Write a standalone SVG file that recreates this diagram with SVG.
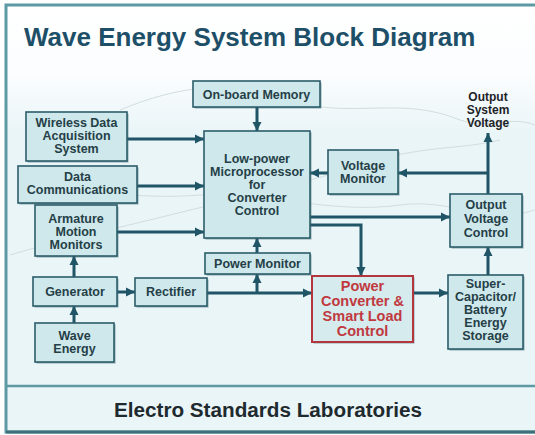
<svg xmlns="http://www.w3.org/2000/svg" width="535" height="435" viewBox="0 0 535 435">
<defs>
<linearGradient id="bg" x1="0" y1="0" x2="0" y2="1">
<stop offset="0" stop-color="#ffffff"/>
<stop offset="0.16" stop-color="#fbfdfe"/>
<stop offset="0.3" stop-color="#eaf5f8"/>
<stop offset="1" stop-color="#eaf5f8"/>
</linearGradient>
<marker id="ah" markerUnits="userSpaceOnUse" markerWidth="10" markerHeight="10" refX="9" refY="5" orient="auto">
<path d="M0,0.5 L9,5 L0,9.5 z" fill="#1f5566"/>
</marker>
<style>
.box{fill:#cfe8ec;stroke:#2b5d69;stroke-width:1.6}
.shd{fill:#3d6b76;opacity:0.55}
.red{fill:#d6ebee;stroke:#b3363c;stroke-width:2}
.t{font-family:"Liberation Sans",Arial,sans-serif;font-weight:bold;font-size:12.5px;fill:#253f47;text-anchor:middle}
.tr{font-family:"Liberation Sans",Arial,sans-serif;font-weight:bold;font-size:14.5px;fill:#c0393f;text-anchor:middle}
.c{fill:none;stroke:#1f5566;stroke-width:3}
.wave{fill:none;stroke:#d3dde0;stroke-width:1}
</style>
</defs>
<rect x="0" y="0" width="535" height="435" fill="#ffffff"/>
<rect x="6" y="5" width="535" height="427" fill="url(#bg)" stroke="#5d9aa4" stroke-width="3"/>
<line x1="6" y1="386" x2="535" y2="386" stroke="#5d9aa4" stroke-width="2.5"/>
<line x1="6" y1="432" x2="535" y2="432" stroke="#3f6f78" stroke-width="3"/>
<g id="waves">
<path class="wave" d="M120,110 C180,85 230,80 290,100 C350,120 400,95 460,120 C490,130 510,115 535,125"/>
<path class="wave" d="M10,255 C60,240 110,230 170,215 C230,200 300,185 360,165 C420,145 460,150 500,140"/>
<path class="wave" d="M20,180 C80,190 140,200 200,195 C260,190 330,215 400,205 C450,198 490,225 535,210"/>
</g>
<text x="24" y="46" font-family="'Liberation Sans',Arial,sans-serif" font-weight="bold" font-size="26" fill="#1d5068">Wave Energy System Block Diagram</text>
<text x="268" y="417" font-family="'Liberation Sans',Arial,sans-serif" font-weight="bold" font-size="20.7" fill="#1e2a2e" text-anchor="middle">Electro Standards Laboratories</text>

<g id="connectors">
<line class="c" x1="257" y1="107" x2="257" y2="131" marker-end="url(#ah)"/>
<line class="c" x1="127" y1="139" x2="204" y2="139" marker-end="url(#ah)"/>
<line class="c" x1="137" y1="186" x2="204" y2="186" marker-end="url(#ah)"/>
<line class="c" x1="117" y1="232" x2="204" y2="232" marker-end="url(#ah)"/>
<line class="c" x1="74" y1="277" x2="74" y2="256" marker-end="url(#ah)"/>
<line class="c" x1="74" y1="323" x2="74" y2="306" marker-end="url(#ah)"/>
<line class="c" x1="117" y1="292" x2="135" y2="292" marker-end="url(#ah)"/>
<line class="c" x1="207" y1="293" x2="312" y2="293" marker-end="url(#ah)"/>
<line class="c" x1="257" y1="293" x2="257" y2="274" marker-end="url(#ah)"/>
<line class="c" x1="257" y1="253" x2="257" y2="238" marker-end="url(#ah)"/>
<line class="c" x1="310" y1="217" x2="450" y2="217" marker-end="url(#ah)"/>
<polyline class="c" points="310,225 361,225 361,276" marker-end="url(#ah)"/>
<line class="c" x1="488" y1="173" x2="398" y2="173" marker-end="url(#ah)"/>
<line class="c" x1="328" y1="173" x2="310" y2="173" marker-end="url(#ah)"/>
<line class="c" x1="488" y1="194" x2="488" y2="133" marker-end="url(#ah)"/>
<line class="c" x1="413" y1="293" x2="448" y2="293" marker-end="url(#ah)"/>
<line class="c" x1="488" y1="275" x2="488" y2="247" marker-end="url(#ah)"/>
</g>

<g id="memory">
<rect class="shd" x="194.5" y="82.5" width="127" height="26"/>
<rect class="box" x="193" y="81" width="127" height="26"/>
<text class="t" x="256.5" y="98.5">On-board Memory</text>
</g>
<g id="micro">
<rect class="shd" x="205.5" y="132.5" width="106" height="107"/>
<rect class="box" x="204" y="131" width="106" height="107"/>
<text class="t" x="257" y="163">Low-power</text>
<text class="t" x="257" y="176">Microprocessor</text>
<text class="t" x="257" y="189">for</text>
<text class="t" x="257" y="202">Converter</text>
<text class="t" x="257" y="215">Control</text>
</g>
<g id="wireless">
<rect class="shd" x="27.5" y="113.5" width="101" height="49"/>
<rect class="box" x="26" y="112" width="101" height="49"/>
<text class="t" x="76.5" y="127">Wireless Data</text>
<text class="t" x="76.5" y="140">Acquisition</text>
<text class="t" x="76.5" y="153">System</text>
</g>
<g id="datacomm">
<rect class="shd" x="19.5" y="167.5" width="119" height="37"/>
<rect class="box" x="18" y="166" width="119" height="37"/>
<text class="t" x="77.5" y="180.5">Data</text>
<text class="t" x="77.5" y="193.5">Communications</text>
</g>
<g id="armature">
<rect class="shd" x="36.5" y="206.5" width="82" height="51"/>
<rect class="box" x="35" y="205" width="82" height="51"/>
<text class="t" x="76" y="223">Armature</text>
<text class="t" x="76" y="236">Motion</text>
<text class="t" x="76" y="249">Monitors</text>
</g>
<g id="generator">
<rect class="shd" x="34.5" y="278.5" width="84" height="29"/>
<rect class="box" x="33" y="277" width="84" height="29"/>
<text class="t" x="75" y="296">Generator</text>
</g>
<g id="rectifier">
<rect class="shd" x="136.5" y="279.5" width="72" height="28"/>
<rect class="box" x="135" y="278" width="72" height="28"/>
<text class="t" x="171" y="296">Rectifier</text>
</g>
<g id="wave">
<rect class="shd" x="36.5" y="324.5" width="79" height="39"/>
<rect class="box" x="35" y="323" width="79" height="39"/>
<text class="t" x="74.5" y="340">Wave</text>
<text class="t" x="74.5" y="353">Energy</text>
</g>
<g id="powermonitor">
<rect class="shd" x="206.5" y="254.5" width="105" height="21"/>
<rect class="box" x="205" y="253" width="105" height="21"/>
<text class="t" x="257.5" y="268">Power Monitor</text>
</g>
<g id="converter">
<rect class="shd" x="313.5" y="277.5" width="101" height="66"/>
<rect class="red" x="312" y="276" width="101" height="66"/>
<text class="tr" x="362.5" y="291">Power</text>
<text class="tr" x="362.5" y="306">Converter &amp;</text>
<text class="tr" x="362.5" y="321">Smart Load</text>
<text class="tr" x="362.5" y="336">Control</text>
</g>
<g id="supercap">
<rect class="shd" x="449.5" y="276.5" width="75" height="74"/>
<rect class="box" x="448" y="275" width="75" height="74"/>
<text class="t" x="485.5" y="288">Super-</text>
<text class="t" x="485.5" y="301">Capacitor/</text>
<text class="t" x="485.5" y="314">Battery</text>
<text class="t" x="485.5" y="327">Energy</text>
<text class="t" x="485.5" y="340">Storage</text>
</g>
<g id="voltagemonitor">
<rect class="shd" x="329.5" y="151.5" width="70" height="44"/>
<rect class="box" x="328" y="150" width="70" height="44"/>
<text class="t" x="363" y="170">Voltage</text>
<text class="t" x="363" y="183">Monitor</text>
</g>
<g id="outputcontrol">
<rect class="shd" x="451.5" y="195.5" width="72" height="53"/>
<rect class="box" x="450" y="194" width="72" height="53"/>
<text class="t" x="486" y="209">Output</text>
<text class="t" x="486" y="223">Voltage</text>
<text class="t" x="486" y="237">Control</text>
</g>
<g id="outputvoltage">
<text class="t" x="488" y="101" style="fill:#1e2326;font-size:12px">Output</text>
<text class="t" x="488" y="114" style="fill:#1e2326;font-size:12px">System</text>
<text class="t" x="488" y="127" style="fill:#1e2326;font-size:12px">Voltage</text>
</g>
</svg>
